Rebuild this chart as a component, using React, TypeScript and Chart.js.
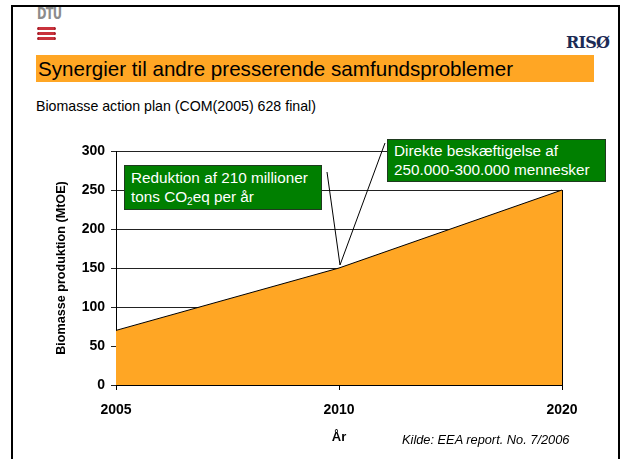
import React, { useEffect, useRef } from "react";
import { Chart, registerables } from "chart.js";

Chart.register(...registerables);

const categories = ["2005", "2010", "2020"];
const biomass = [70, 150, 250];
const yMin = 0;
const yMax = 300;
const yStep = 50;
const calloutIndex = 1;
const calloutValue = 150;

const ORANGE = "#FFA624";
const GREEN = "#007F00";
const FONT = "'Liberation Sans', Arial, sans-serif";

const edgePlugin = {
  id: "edgePlugin",
  afterDatasetsDraw(chart: any) {
    const meta = chart.getDatasetMeta(0);
    const last = meta.data[meta.data.length - 1];
    const y0 = chart.scales.y.getPixelForValue(0);
    const ctx = chart.ctx;
    ctx.save();
    ctx.strokeStyle = "#000";
    ctx.lineWidth = 1;
    ctx.beginPath();
    ctx.moveTo(Math.round(last.x) + 0.5, last.y);
    ctx.lineTo(Math.round(last.x) + 0.5, y0);
    ctx.stroke();
    ctx.restore();
  },
};

const calloutPlugin = {
  id: "calloutPlugin",
  afterDraw(chart: any, _args: any, opts: any) {
    const x = chart.scales.x.getPixelForValue(calloutIndex);
    const y = chart.scales.y.getPixelForValue(calloutValue);
    const ctx = chart.ctx;
    ctx.save();
    ctx.strokeStyle = "#000";
    ctx.lineWidth = 1;
    (opts.anchors || []).forEach((a: number[]) => {
      ctx.beginPath();
      ctx.moveTo(a[0], a[1]);
      ctx.lineTo(x + 1, y - 3);
      ctx.stroke();
    });
    ctx.restore();
  },
};

function ChartCanvas() {
  const ref = useRef<HTMLCanvasElement | null>(null);
  useEffect(() => {
    if (!ref.current) return;
    const chart = new Chart(ref.current, {
      type: "line",
      data: {
        labels: categories,
        datasets: [
          {
            data: biomass,
            backgroundColor: ORANGE,
            borderColor: "#000",
            borderWidth: 1,
            fill: "origin",
            pointRadius: 0,
            tension: 0,
          },
        ],
      },
      plugins: [edgePlugin, calloutPlugin],
      options: {
        responsive: false,
        animation: false,
        devicePixelRatio: 1,
        layout: { padding: { left: 50, top: 151, right: 60, bottom: 10 } },
        plugins: {
          legend: { display: false },
          tooltip: { enabled: false },
          calloutPlugin: { anchors: [[327, 172], [385, 143]] },
        } as any,
        scales: {
          x: {
            offset: false,
            grid: { drawOnChartArea: false, drawTicks: true, tickLength: 5, color: "#000" },
            border: { color: "#000", width: 1 },
            ticks: { color: "#000", padding: 12, font: { family: FONT, size: 14, weight: "bold" }, maxRotation: 0 },
            title: { display: true, text: "År", color: "#000", font: { family: FONT, size: 13, weight: "bold" } },
            afterFit: (s: any) => { s.height = 64; },
          },
          y: {
            min: yMin,
            max: yMax,
            grid: { color: "#222", tickLength: 5, lineWidth: 1 },
            border: { color: "#000", width: 1 },
            ticks: { stepSize: yStep, color: "#000", padding: 6, font: { family: FONT, size: 14, weight: "bold" } },
            title: { display: true, text: "Biomasse produktion (MtOE)", color: "#000", font: { family: FONT, size: 12.6, weight: "bold" } },
            afterFit: (s: any) => { s.width = 66; },
          },
        },
      } as any,
    });
    return () => chart.destroy();
  }, []);
  return <canvas ref={ref} width={622} height={459} style={{ position: "absolute", left: 0, top: 0, width: 622, height: 459 }} />;
}

const boxStyle: React.CSSProperties = {
  position: "absolute",
  background: GREEN,
  border: "1px solid #1f3a1f",
  color: "#fff",
  fontFamily: FONT,
  fontSize: 15.3,
  lineHeight: "19px",
  boxSizing: "border-box",
  paddingLeft: 6,
  paddingTop: 2,
  whiteSpace: "nowrap",
};

function Stripe({ top }: { top: number }) {
  return (
    <div style={{ position: "absolute", left: 37, top, width: 19, height: 3, background: "#c9323c", borderRadius: 2, borderLeft: "2px solid #a8222c", borderRight: "2px solid #a8222c", boxSizing: "border-box" }} />
  );
}

export default function App() {
  return (
    <div style={{ position: "fixed", left: 0, top: 0, width: 622, height: 459, overflow: "hidden", background: "#fff" }}>
      <div style={{ position: "absolute", left: 11, top: 5, width: 609, height: 470, border: "2px solid #000", boxSizing: "border-box" }} />
      <div style={{ position: "absolute", left: 37, top: 7, fontFamily: "'DejaVu Sans Condensed', sans-serif", fontWeight: "bold", fontSize: 15, lineHeight: "15px", color: "#8c8c8c", letterSpacing: -1, transform: "scale(0.85, 1.0)", transformOrigin: "left top" }}>DTU</div>
      <Stripe top={27} />
      <Stripe top={32} />
      <Stripe top={37} />
      <div style={{ position: "absolute", left: 566, top: 33, fontFamily: "'DejaVu Serif', serif", fontWeight: "bold", fontSize: 16, color: "#1c2b55", letterSpacing: -0.8 }}>RISØ</div>
      <div style={{ position: "absolute", left: 36, top: 55, width: 558, height: 27, background: ORANGE }} />
      <div style={{ position: "absolute", left: 38, top: 56, fontFamily: FONT, fontSize: 20.6, color: "#000", lineHeight: "25px", whiteSpace: "nowrap" }}>Synergier til andre presserende samfundsproblemer</div>
      <div style={{ position: "absolute", left: 36, top: 98, fontFamily: FONT, fontSize: 14.2, color: "#000", whiteSpace: "nowrap" }}>Biomasse action plan (COM(2005) 628 final)</div>
      <ChartCanvas />
      <div style={{ ...boxStyle, left: 124, top: 165, width: 198, height: 45 }}>
        Reduktion af 210 millioner<br />tons CO<sub style={{ fontSize: 10, lineHeight: 0, verticalAlign: "-3px" }}>2</sub>eq per år
      </div>
      <div style={{ ...boxStyle, left: 387, top: 139, width: 219, height: 43, paddingTop: 1 }}>
        Direkte beskæftigelse af<br />250.000-300.000 mennesker
      </div>
      <div style={{ position: "absolute", left: 402, top: 432, fontFamily: FONT, fontStyle: "italic", fontSize: 12.8, color: "#000", whiteSpace: "nowrap" }}>Kilde: EEA report. No. 7/2006</div>
    </div>
  );
}
